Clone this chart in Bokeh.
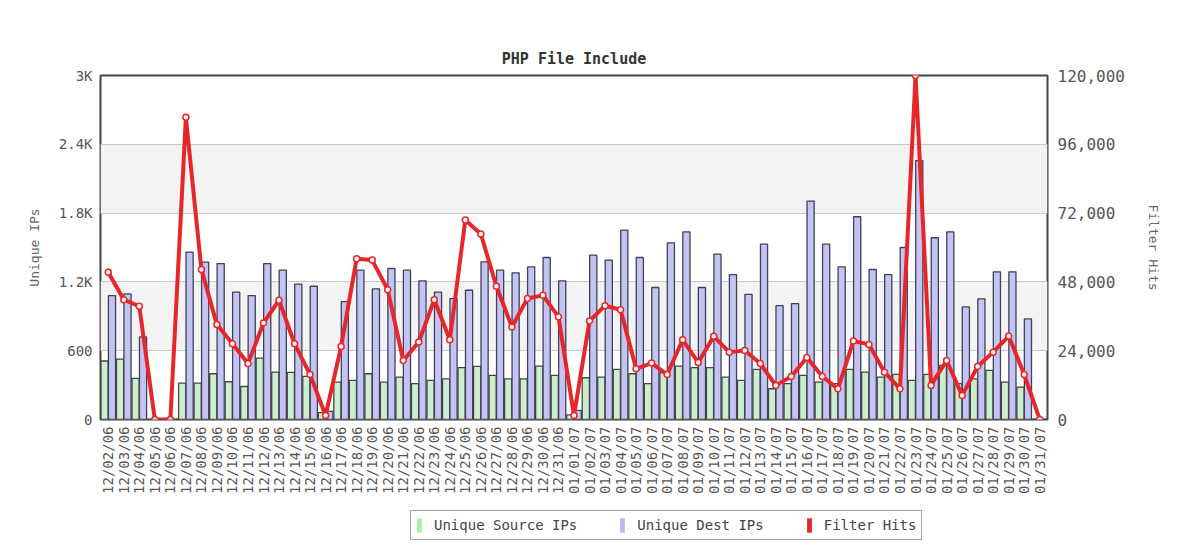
from math import pi
from bokeh.plotting import figure
from bokeh.layouts import column
from bokeh.models import (ColumnDataSource, FactorRange, Range1d, LinearAxis, FixedTicker,
                          NumeralTickFormatter, Legend, LegendItem)
from bokeh.transform import dodge
from bokeh.embed import file_html
from bokeh.resources import INLINE

# ---- data -------------------------------------------------------------
dates = [f"12/{d:02d}/06" for d in range(2, 32)] + [f"01/{d:02d}/07" for d in range(1, 32)]

unique_source_ips = [510, 527, 358, 0, 0, 318, 318, 399, 329, 288, 536, 414, 411, 376, 60,
                     326, 341, 399, 326, 370, 312, 341, 355, 452, 463, 385, 355, 355, 466, 385,
                     40, 364, 370, 437, 399, 312, 410, 466, 452, 452, 370, 341, 437, 268, 312,
                     385, 326, 312, 437, 414, 370, 393, 341, 393, 472, 312, 355, 428, 326, 283, 0]

unique_dest_ips = [1081, 1095, 720, 0, 0, 1459, 1372, 1360, 1110, 1081, 1360, 1302, 1180, 1162, 70,
                   1028, 1302, 1139, 1317, 1302, 1209, 1110, 1055, 1127, 1375, 1302, 1279, 1331, 1413, 1209,
                   80, 1433, 1390, 1652, 1413, 1151, 1541, 1637, 1151, 1442, 1264, 1092, 1529, 993, 1011,
                   1905, 1529, 1331, 1768, 1308, 1264, 1500, 2258, 1585, 1637, 982, 1052, 1288, 1288, 877, 0]

filter_hits = [51400, 41800, 39500, 0, 0, 105400, 52300, 33100, 26400, 19500, 33700, 41600, 26400, 15700, 1400,
               25500, 56100, 55600, 45300, 20600, 27000, 41800, 27800, 69600, 64700, 46500, 32300, 42200, 43300, 35800,
               1400, 34400, 39700, 38300, 17700, 19700, 15700, 27800, 19900, 29000, 23500, 24100, 19500, 11900, 15000,
               21600, 15000, 10700, 27400, 26200, 16500, 10700, 120000, 11900, 20600, 8400, 18500, 23500, 29100, 15700, 0]

left_ticks = [0, 600, 1200, 1800, 2400, 3000]
left_labels = ["0", "600", "1.2K", "1.8K", "2.4K", "3K"]
right_ticks = [0, 24000, 48000, 72000, 96000, 120000]

series_names = ["Unique Source IPs", "Unique Dest IPs", "Filter Hits"]
legend_colors = ["#a8f0a8", "#b8b8f0", "#e8262a"]

# ---- main figure ------------------------------------------------------
FONT = "DejaVu Sans Mono"
TXT = "#555555"

source = ColumnDataSource(dict(date=dates, src=unique_source_ips, dst=unique_dest_ips, hits=filter_hits))

p = figure(width=1184, height=500,
           x_range=FactorRange(factors=dates, range_padding=0),
           y_range=Range1d(0, 3000), output_backend="svg", toolbar_location=None,
           min_border_left=100, min_border_right=137, min_border_top=75, min_border_bottom=81)

p.extra_y_ranges = {"hits": Range1d(0, 120000)}

p.title.text = "PHP File Include"
p.title.align = "center"
p.title.text_font = FONT
p.title.text_font_size = "15px"
p.title.text_font_style = "bold"
p.title.text_color = "#333333"
p.title.standoff = 16

p.outline_line_color = "#444444"
p.outline_line_width = 2

p.xgrid.visible = False
p.ygrid.ticker = FixedTicker(ticks=left_ticks)
p.ygrid.grid_line_color = "#c8c8c8"
p.ygrid.band_fill_color = "#f3f3f3"
p.ygrid.band_fill_alpha = 1.0

# bars
p.vbar(x=dodge("date", -0.24, range=p.x_range), top="src", width=0.46, source=source,
       fill_color="#cdeecd", line_color="#404840", line_width=1.3)
p.vbar(x=dodge("date", 0.24, range=p.x_range), top="dst", width=0.46, source=source,
       fill_color="#c4c4f2", line_color="#40405a", line_width=1.3)

# line
p.line(x="date", y="hits", source=source, y_range_name="hits", line_color="#e8262a", line_width=4)
p.scatter(x="date", y="hits", source=source, y_range_name="hits", size=6, marker="circle",
          fill_color="#fff4f4", line_color="#e8262a", line_width=1.5)

# axes
yl = p.yaxis[0]
yl.ticker = FixedTicker(ticks=left_ticks)
yl.major_label_overrides = {t: l for t, l in zip(left_ticks, left_labels)}
yl.axis_label = "Unique IPs"
yl.axis_label_standoff = 14

yr = LinearAxis(y_range_name="hits", ticker=FixedTicker(ticks=right_ticks),
                formatter=NumeralTickFormatter(format="0,0"), axis_label="Filter Hits")
yr.axis_label_standoff = 18
p.add_layout(yr, "right")

xa = p.xaxis[0]
xa.major_label_orientation = pi / 2

for ax in [yl, yr, xa]:
    ax.axis_line_color = None
    ax.major_tick_line_color = None
    ax.minor_tick_line_color = None
    ax.major_tick_out = 0
    ax.major_tick_in = 0
    ax.minor_tick_out = 0
    ax.minor_tick_in = 0
    ax.major_label_text_font = FONT
    ax.major_label_text_font_size = "14px"
    ax.major_label_text_color = TXT
    ax.axis_label_text_font = FONT
    ax.axis_label_text_font_size = "13px"
    ax.axis_label_text_font_style = "normal"
    ax.axis_label_text_color = "#666666"
    ax.major_label_standoff = 8

yr.major_label_text_font_size = "16px"
yr.major_label_standoff = 10
xa.major_label_standoff = 7

# ---- legend strip (separate small figure under the chart) -------------
lp = figure(width=1184, height=48, x_range=Range1d(0, 1), y_range=Range1d(0, 1),
            output_backend="svg", toolbar_location=None, x_axis_type=None, y_axis_type=None,
            min_border=0, min_border_left=0, min_border_right=0, min_border_top=0, min_border_bottom=0)
lp.outline_line_color = None
lp.xgrid.visible = False
lp.ygrid.visible = False

key_src = ColumnDataSource(dict(x=[0.5], top=[0]))
keys = [lp.vbar(x="x", top="top", bottom=0, width=0.01, source=key_src,
                fill_color=c, line_color=None) for c in legend_colors]

legend = Legend(items=[LegendItem(label=n, renderers=[k]) for n, k in zip(series_names, keys)],
                orientation="horizontal", location=(310, 8),
                glyph_width=6, glyph_height=18, label_standoff=12, spacing=42, padding=5,
                label_text_font=FONT, label_text_font_size="14px", label_text_color="#444444",
                border_line_color="#444444", border_line_width=1.5, margin=0)
lp.add_layout(legend, "center")

layout = column(p, lp, spacing=0)

open("out.html", "w").write(file_html(layout, INLINE))
